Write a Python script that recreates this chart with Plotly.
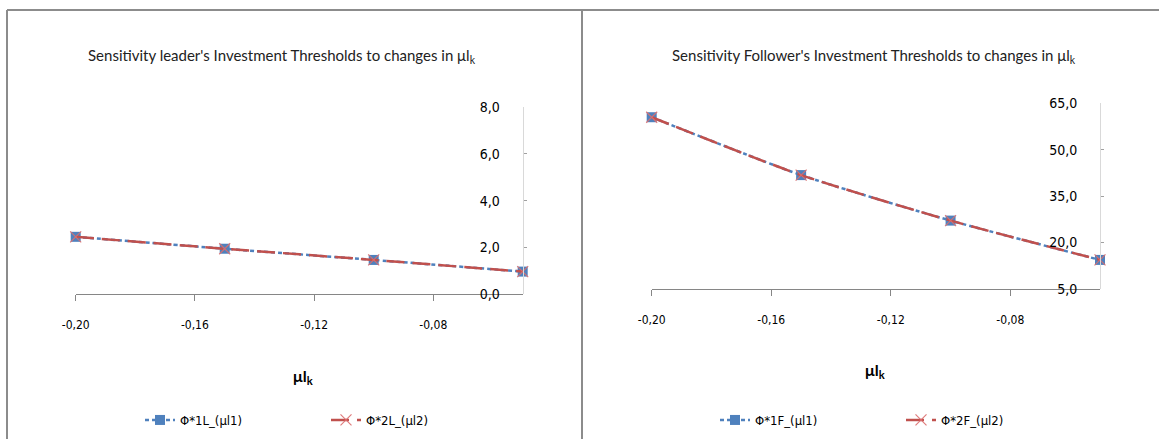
import plotly.graph_objects as go

W, H = 1159, 439

# ---- data ----
mu_lk = [-0.20, -0.15, -0.10, -0.05]
leader_phi1 = [2.45, 1.94, 1.46, 0.96]
leader_phi2 = [2.45, 1.94, 1.46, 0.96]
follower_phi1 = [60.5, 41.8, 27.1, 14.4]
follower_phi2 = [60.5, 41.8, 27.1, 14.4]

x_tick_vals = [-0.20, -0.16, -0.12, -0.08]
x_tick_text = ["-0,20", "-0,16", "-0,12", "-0,08"]
yL_tick_vals = [0, 2, 4, 6, 8]
yL_tick_text = ["0,0", "2,0", "4,0", "6,0", "8,0"]
yF_tick_vals = [5, 20, 35, 50, 65]
yF_tick_text = ["5,0", "20,0", "35,0", "50,0", "65,0"]

titles = ["Sensitivity leader's Investment Thresholds to changes in μl<sub>k</sub>",
          "Sensitivity Follower's Investment Thresholds to changes in μl<sub>k</sub>"]
names_L = ["Φ*1L_(μl1)", "Φ*2L_(μl2)"]
names_F = ["Φ*1F_(μl1)", "Φ*2F_(μl2)"]

BLUE = "#4F81BD"
RED = "#C0504D"
FONT = "Liberation Sans Narrow, DejaVu Sans Condensed, Arial Narrow, sans-serif"
TFONT = "Lato, Liberation Sans, sans-serif"


def px(x):
    return x / W


def py(y):
    return 1 - y / H


fig = go.Figure()


def add_pair(xs, y1, y2, names, xa, ya, legend):
    fig.add_trace(go.Scatter(
        x=xs, y=y1, name=names[0], xaxis=xa, yaxis=ya, legend=legend,
        mode="lines+markers", line=dict(color=BLUE, width=2.5, dash="4px,3px", shape="spline", smoothing=0.6),
        marker=dict(symbol="square", size=10, color=BLUE), cliponaxis=False))
    fig.add_trace(go.Scatter(
        x=xs, y=y2, name=names[1], xaxis=xa, yaxis=ya, legend=legend,
        mode="lines+markers", line=dict(color=RED, width=2.5, dash="18px,8px", shape="spline", smoothing=0.6),
        marker=dict(symbol="x-thin", size=11, color=RED,
                    line=dict(color="rgba(220,110,110,0.9)", width=1.2)), cliponaxis=False))


add_pair(mu_lk, leader_phi1, leader_phi2, names_L, "x", "y", "legend")
add_pair(mu_lk, follower_phi1, follower_phi2, names_F, "x2", "y2", "legend2")

xcommon = dict(range=[-0.20, -0.05], tickvals=x_tick_vals, ticktext=x_tick_text,
               showgrid=False, zeroline=False, showline=True, linecolor="#868686", linewidth=1,
               ticks="outside", ticklen=6, tickcolor="#868686", automargin=False,
               ticklabelstandoff=14,
               tickfont=dict(family=FONT, size=12, color="#000"))
ycommon = dict(showgrid=False, zeroline=False, showline=True, linecolor="#D9D9D9", linewidth=1,
               side="left", anchor="free", ticks="inside", ticklen=3, tickcolor="#A0A0A0",
               automargin=False, ticklabelstandoff=20,
               tickfont=dict(family=FONT, size=14, color="#000"))

fig.update_layout(
    width=W, height=H, margin=dict(l=0, r=0, t=0, b=0, autoexpand=False),
    paper_bgcolor="white", plot_bgcolor="white",
    xaxis=dict(domain=[px(75.7), px(522.7)], anchor="y", **xcommon),
    yaxis=dict(domain=[py(294), py(107.3)], position=px(522.7), range=[0, 8],
               tickvals=yL_tick_vals, ticktext=yL_tick_text, **ycommon),
    xaxis2=dict(domain=[px(651.7), px(1100)], anchor="y2", **xcommon),
    yaxis2=dict(domain=[py(289), py(103.3)], position=px(1100), range=[5, 65],
                tickvals=yF_tick_vals, ticktext=yF_tick_text, **ycommon),
    legend=dict(orientation="h", x=px(140), xanchor="left", y=py(420), yanchor="middle",
                entrywidth=141, entrywidthmode="pixels", bgcolor="rgba(0,0,0,0)",
                font=dict(family=FONT, size=13, color="#000")),
    legend2=dict(orientation="h", x=px(715), xanchor="left", y=py(420), yanchor="middle",
                 entrywidth=141, entrywidthmode="pixels", bgcolor="rgba(0,0,0,0)",
                 font=dict(family=FONT, size=13, color="#000")),
    showlegend=True,
)

# titles
for cx, t in [(282, titles[0]), (874, titles[1])]:
    fig.add_annotation(text=t, x=px(cx), y=py(56), xref="paper", yref="paper",
                       showarrow=False, xanchor="center", yanchor="middle",
                       font=dict(family=TFONT, size=15, color="#222"))
# axis titles
for cx, cy in [(303, 376), (875, 370)]:
    fig.add_annotation(text="<b>μl<sub>k</sub></b>", x=px(cx), y=py(cy), xref="paper", yref="paper",
                       showarrow=False, xanchor="center", yanchor="middle",
                       font=dict(family=TFONT, size=16, color="#000"))

# panel borders
border = dict(color="#8C8C8C", width=2)
fig.add_shape(type="line", xref="paper", yref="paper", x0=px(7), x1=1, y0=py(10), y1=py(10), line=border)
fig.add_shape(type="line", xref="paper", yref="paper", x0=px(7), x1=px(7), y0=py(10), y1=0, line=border)
fig.add_shape(type="line", xref="paper", yref="paper", x0=px(582), x1=px(582), y0=py(10), y1=0, line=border)

fig.write_html("out.html", config={"displayModeBar": False},
               post_script="document.body.style.margin='0';document.body.style.overflow='hidden';")
